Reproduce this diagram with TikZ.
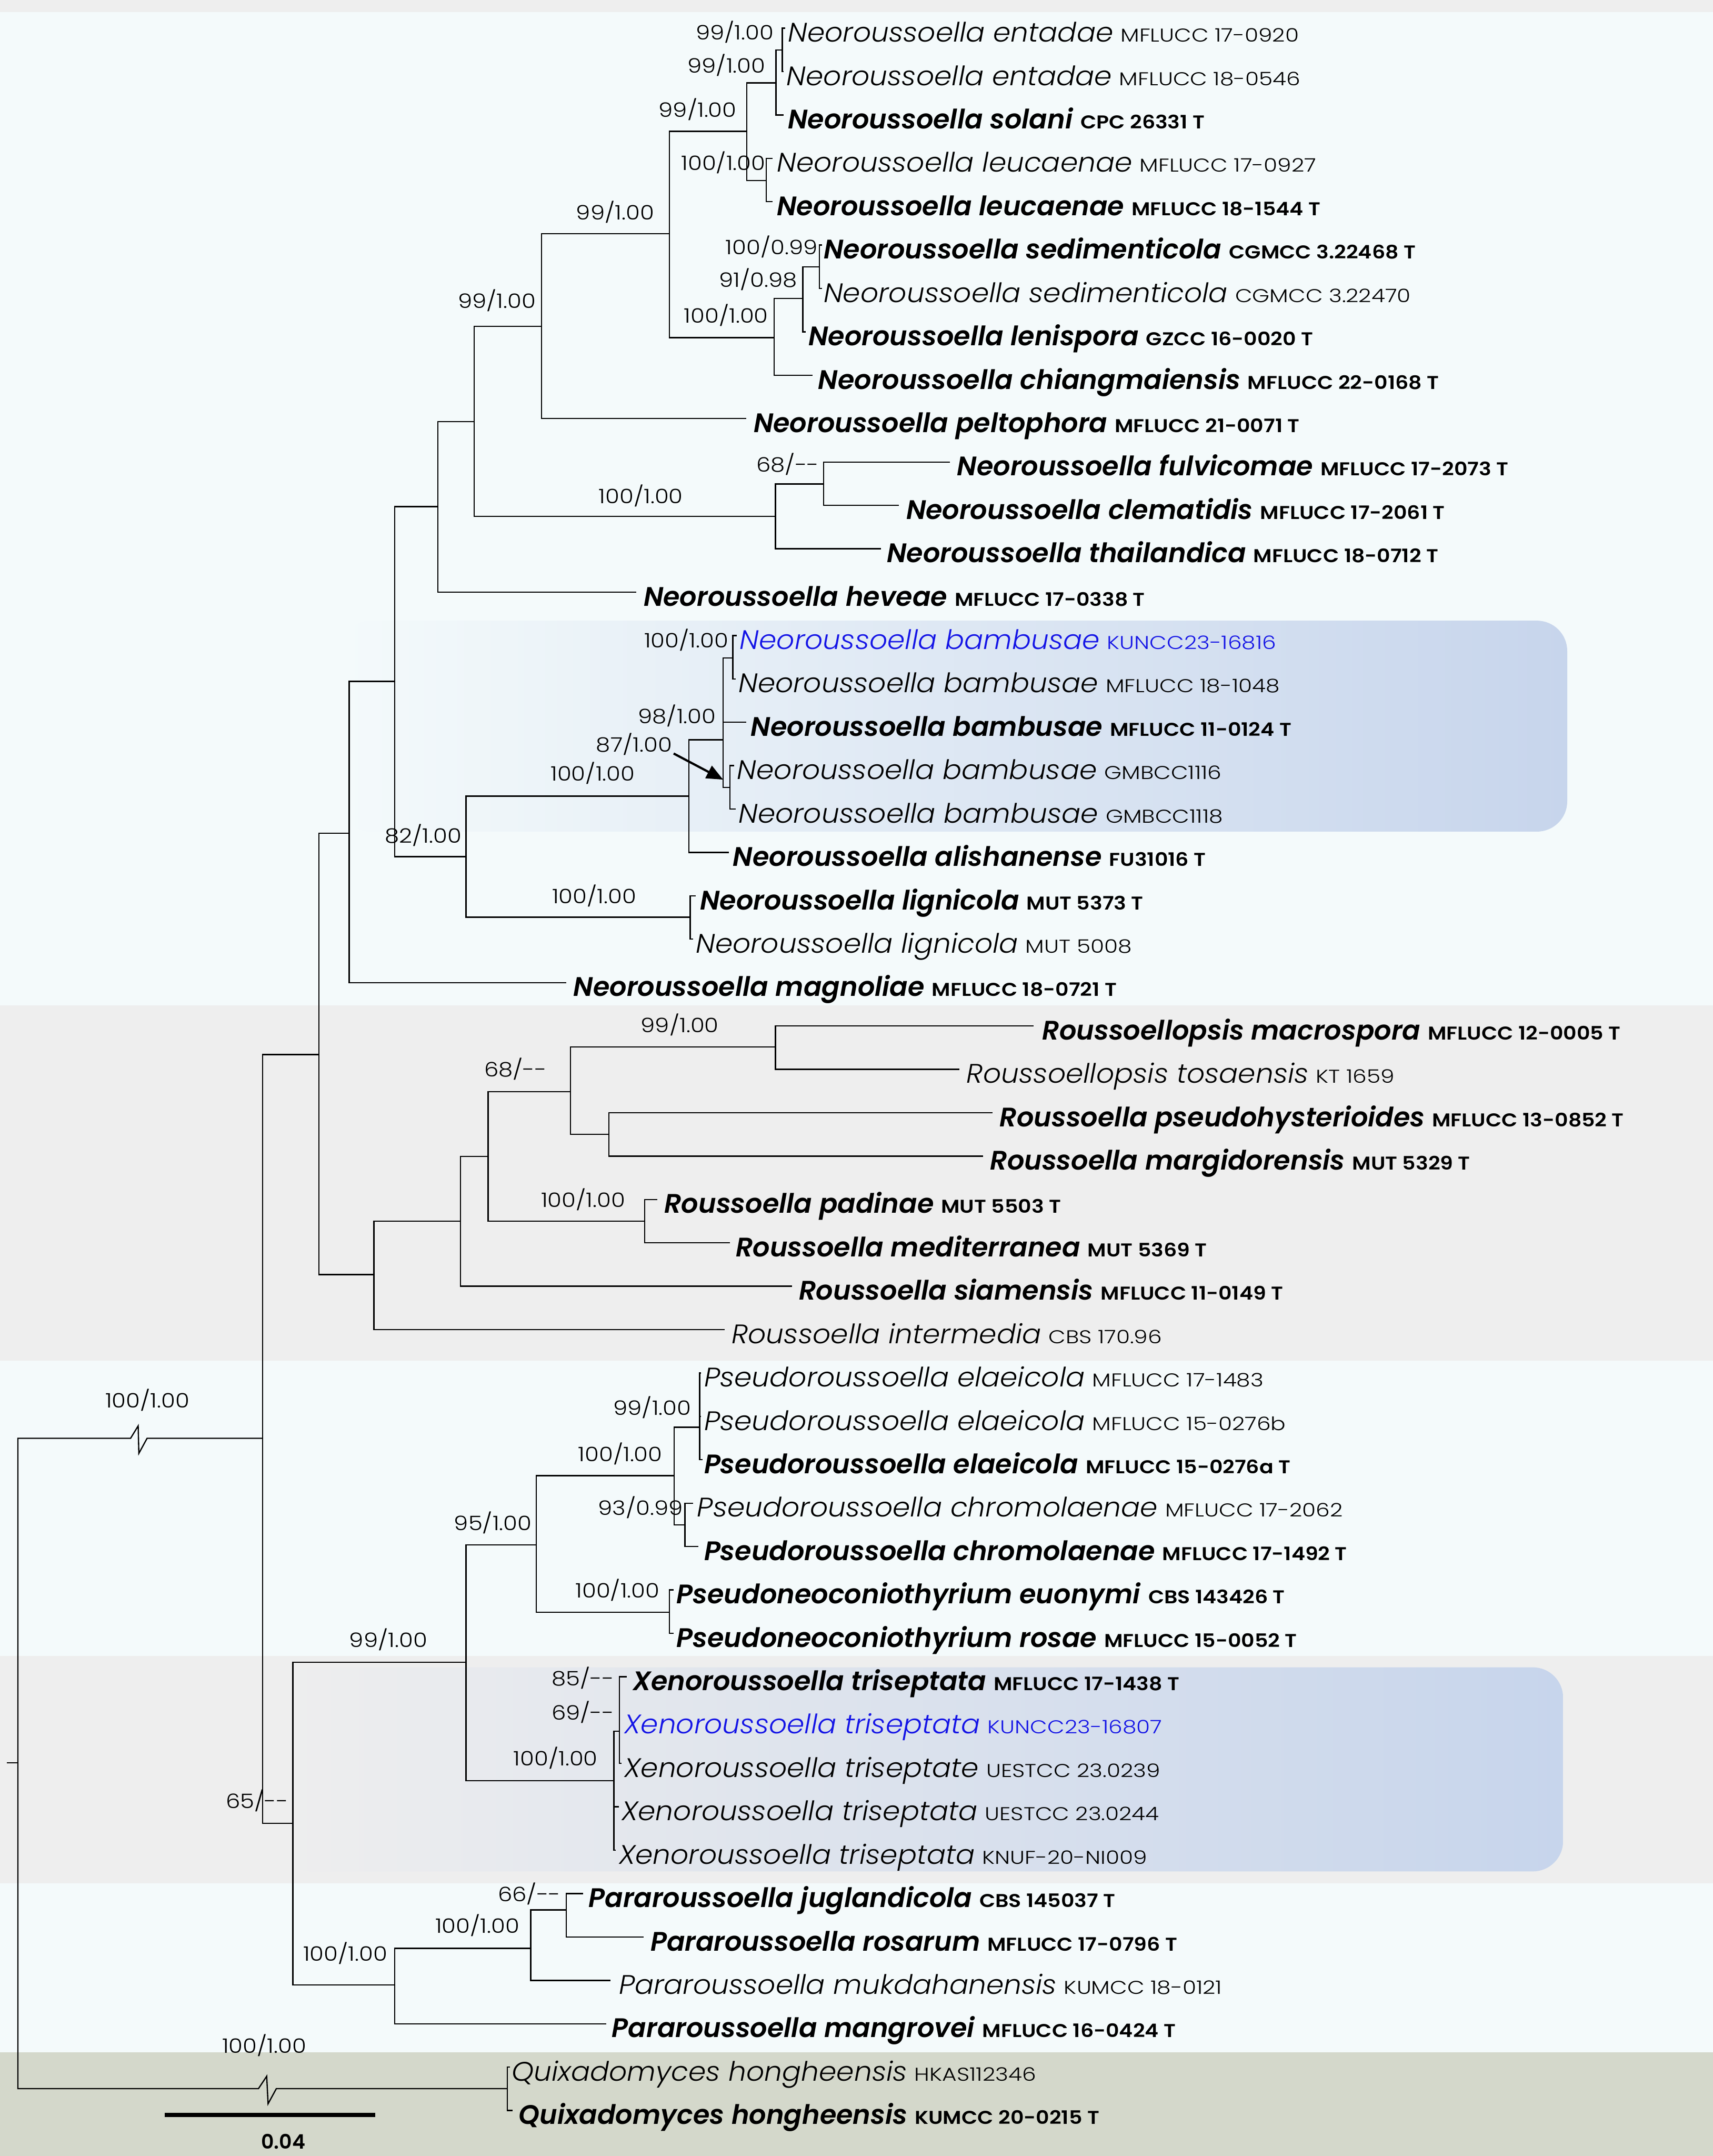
\documentclass[tikz,border=0pt]{standalone}
\usepackage{fontspec}
\setmainfont{Poppins Light}[ItalicFont={Poppins Light Italic},ItalicFeatures={FakeStretch=1.05},BoldFont={Poppins SemiBold},BoldItalicFont={Poppins SemiBold Italic}]
\newfontfamily\codef{Poppins Light}[FakeStretch=1.2]
\newfontfamily\codebf{Poppins SemiBold}[FakeStretch=1.12]
\newfontfamily\suppf{Poppins Light}[FakeStretch=1.15]
\usetikzlibrary{arrows.meta}
\definecolor{bgb}{HTML}{F4FAFB}
\definecolor{bgg}{HTML}{EEEEEE}
\definecolor{bgq}{HTML}{D4D8CB}
\definecolor{hl}{HTML}{C7D5EC}
\definecolor{nblue}{HTML}{1414E6}
\newcommand\cd{\codef\fontsize{13.5}{15}\selectfont}
\newcommand\cdb{\codebf\fontsize{13.5}{15}\selectfont}
\newcommand\nm[2]{\textit{#1} {\cd #2}}
\newcommand\nb[2]{\textbf{\textit{#1}} {\cdb #2}}
\newcommand\tip[5]{\coordinate (#1) at (#2,#4); \node[lab] (#1l) at (#3,#4+10) {#5};}
\newcommand\bs[4]{\node[supp] (#1) at (#2,#3) {#4};}
\begin{document}
\begin{tikzpicture}[x=1pt,y=-1pt,
  br/.style={line width=0.9pt,black},
  lab/.style={anchor=base west,inner sep=0pt,font=\fontsize{19.5}{22}\selectfont},
  supp/.style={anchor=base east,inner sep=0pt,font=\suppf\fontsize{14.5}{16}\selectfont},
  arr/.style={-{Triangle[length=12pt,width=10pt]},line width=1.6pt}]
\useasboundingbox (0,0) rectangle (1246,1568);
% background bands
\fill[bgg] (0,0) rectangle (1246,8.7);
\fill[bgb] (0,8.7) rectangle (1246,731);
\fill[bgg] (0,731) rectangle (1246,989.6);
\fill[bgb] (0,989.6) rectangle (1246,1204.5);
\fill[bgg] (0,1204.5) rectangle (1246,1369.5);
\fill[bgb] (0,1369.5) rectangle (1246,1492.4);
\fill[bgq] (0,1492.4) rectangle (1246,1568);
% highlight boxes
\shade[left color=bgb,right color=hl,rounded corners=22] (248,451.4) rectangle (1140,604.8);
\shade[left color=bgg,right color=hl,rounded corners=22] (205,1212.6) rectangle (1137,1361);

% tips
\tip{t1}{571}{573}{20.5}{\nm{Neoroussoella entadae}{MFLUCC 17-0920}}
\tip{t2}{570}{572}{52.05}{\nm{Neoroussoella entadae}{MFLUCC 18-0546}}
\tip{t3}{570}{573}{83.6}{\nb{Neoroussoella solani}{CPC 26331 T}}
\tip{t4}{562}{565}{115.15}{\nm{Neoroussoella leucaenae}{MFLUCC 17-0927}}
\tip{t5}{562}{565}{146.7}{\nb{Neoroussoella leucaenae}{MFLUCC 18-1544 T}}
\tip{t6}{598}{599}{178.25}{\nb{Neoroussoella sedimenticola}{CGMCC 3.22468 T}}
\tip{t7}{598}{599}{209.8}{\nm{Neoroussoella sedimenticola}{CGMCC 3.22470}}
\tip{t8}{586}{588}{241.35}{\nb{Neoroussoella lenispora}{GZCC 16-0020 T}}
\tip{t9}{591}{595}{272.9}{\nb{Neoroussoella chiangmaiensis}{MFLUCC 22-0168 T}}
\tip{t10}{543}{548}{304.45}{\nb{Neoroussoella peltophora}{MFLUCC 21-0071 T}}
\tip{t11}{691}{696}{336}{\nb{Neoroussoella fulvicomae}{MFLUCC 17-2073 T}}
\tip{t12}{654}{659}{367.55}{\nb{Neoroussoella clematidis}{MFLUCC 17-2061 T}}
\tip{t13}{641}{645}{399.1}{\nb{Neoroussoella thailandica}{MFLUCC 18-0712 T}}
\tip{t14}{463}{468}{430.65}{\nb{Neoroussoella heveae}{MFLUCC 17-0338 T}}
\tip{t15}{536}{538}{462.2}{\color{nblue}\nm{Neoroussoella bambusae}{KUNCC23-16816}}
\tip{t16}{535}{537}{493.75}{\nm{Neoroussoella bambusae}{MFLUCC 18-1048}}
\tip{t17}{543}{546}{525.3}{\nb{Neoroussoella bambusae}{MFLUCC 11-0124 T}}
\tip{t18}{534}{536}{556.85}{\nm{Neoroussoella bambusae}{GMBCC1116}}
\tip{t19}{535}{537}{588.4}{\nm{Neoroussoella bambusae}{GMBCC1118}}
\tip{t20}{530}{533}{619.95}{\nb{Neoroussoella alishanense}{FU31016 T}}
\tip{t21}{506}{509}{651.5}{\nb{Neoroussoella lignicola}{MUT 5373 T}}
\tip{t22}{504}{506}{683.05}{\nm{Neoroussoella lignicola}{MUT 5008}}
\tip{t23}{412}{417}{714.6}{\nb{Neoroussoella magnoliae}{MFLUCC 18-0721 T}}
\tip{t24}{752}{758}{746.15}{\nb{Roussoellopsis macrospora}{MFLUCC 12-0005 T}}
\tip{t25}{698}{703}{777.7}{\nm{Roussoellopsis tosaensis}{KT 1659}}
\tip{t26}{722}{727}{809.25}{\nb{Roussoella pseudohysterioides}{MFLUCC 13-0852 T}}
\tip{t27}{715}{720}{840.8}{\nb{Roussoella margidorensis}{MUT 5329 T}}
\tip{t28}{478}{483}{872.35}{\nb{Roussoella padinae}{MUT 5503 T}}
\tip{t29}{531}{535}{903.9}{\nb{Roussoella mediterranea}{MUT 5369 T}}
\tip{t30}{576}{581}{935.45}{\nb{Roussoella siamensis}{MFLUCC 11-0149 T}}
\tip{t31}{527}{532}{967}{\nm{Roussoella intermedia}{CBS 170.96}}
\tip{t32}{510}{512}{998.55}{\nm{Pseudoroussoella elaeicola}{MFLUCC 17-1483}}
\tip{t33}{510}{512}{1030.1}{\nm{Pseudoroussoella elaeicola}{MFLUCC 15-0276b}}
\tip{t34}{511}{512}{1061.65}{\nb{Pseudoroussoella elaeicola}{MFLUCC 15-0276a T}}
\tip{t35}{504}{507}{1093.2}{\nm{Pseudoroussoella chromolaenae}{MFLUCC 17-2062}}
\tip{t36}{508}{512}{1124.75}{\nb{Pseudoroussoella chromolaenae}{MFLUCC 17-1492 T}}
\tip{t37}{490}{492}{1156.3}{\nb{Pseudoneoconiothyrium euonymi}{CBS 143426 T}}
\tip{t38}{490}{492}{1187.85}{\nb{Pseudoneoconiothyrium rosae}{MFLUCC 15-0052 T}}
\tip{t39}{456}{460}{1219.4}{\nb{Xenoroussoella triseptata}{MFLUCC 17-1438 T}}
\tip{t40}{451}{454}{1250.95}{\color{nblue}\nm{Xenoroussoella triseptata}{KUNCC23-16807}}
\tip{t41}{452}{454}{1282.5}{\nm{Xenoroussoella triseptate}{UESTCC 23.0239}}
\tip{t42}{450}{452}{1314.05}{\nm{Xenoroussoella triseptata}{UESTCC 23.0244}}
\tip{t43}{448}{450}{1345.6}{\nm{Xenoroussoella triseptata}{KNUF-20-NI009}}
\tip{t44}{424}{428}{1377.15}{\nb{Pararoussoella juglandicola}{CBS 145037 T}}
\tip{t45}{468}{473}{1408.7}{\nb{Pararoussoella rosarum}{MFLUCC 17-0796 T}}
\tip{t46}{444}{450}{1440.25}{\nm{Pararoussoella mukdahanensis}{KUMCC 18-0121}}
\tip{t47}{441}{445}{1471.8}{\nb{Pararoussoella mangrovei}{MFLUCC 16-0424 T}}
\tip{t48}{371}{372}{1503.35}{\nm{Quixadomyces hongheensis}{HKAS112346}}
\tip{t49}{373}{377}{1534.9}{\nb{Quixadomyces hongheensis}{KUMCC 20-0215 T}}

% internal nodes
\coordinate (stub) at (5,1282);
\coordinate (R0) at (13,1282);
\coordinate (bk1) at (95,1046);
\coordinate (bk2) at (188,1519);
\coordinate (A) at (191,1046);
\coordinate (NR) at (232,767);
\coordinate (Neo) at (254,606);
\coordinate (I) at (287,495.5);
\coordinate (K) at (318.6,368.5);
\coordinate (L) at (345,306.6);
\coordinate (Mp) at (394,237.4);
\coordinate (M) at (487,170);
\coordinate (P) at (543.2,95.5);
\coordinate (R) at (564.5,60.3);
\coordinate (T) at (569,36.4);
\coordinate (S) at (557.3,131.2);
\coordinate (Q2) at (563,245.6);
\coordinate (U) at (584,217);
\coordinate (V) at (596,194);
\coordinate (N) at (564,375.6);
\coordinate (O) at (599,352);
\coordinate (J) at (339,623);
\coordinate (W) at (501,579);
\coordinate (X) at (526,538);
\coordinate (Y) at (533,478.5);
\coordinate (Z) at (531,572.7);
\coordinate (Lg) at (502,667);
\coordinate (Rou) at (272,927);
\coordinate (AA) at (335,888);
\coordinate (AB) at (355,841);
\coordinate (AC) at (415,794);
\coordinate (AE) at (564,761.5);
\coordinate (AF) at (443,825);
\coordinate (AD) at (469,888);
\coordinate (B) at (213,1326);
\coordinate (C) at (339,1209);
\coordinate (D) at (390,1123.5);
\coordinate (E) at (490.5,1073.2);
\coordinate (F) at (509,1038);
\coordinate (G2) at (498.2,1109);
\coordinate (PN) at (487,1172.6);
\coordinate (Xe) at (446.5,1295);
\coordinate (Xs) at (450.5,1259);
\coordinate (Pa) at (287,1443.5);
\coordinate (G) at (386,1417);
\coordinate (H) at (412,1389);
\coordinate (Q) at (369,1519);

% branches
\draw[br] (stub) -- (R0);
\draw[br] (R0) |- (bk1) -- ++(5.5,-9) -- ++(0.5,20) -- ++(6,-11) -- (A);
\draw[br] (R0) |- (bk2) -- ++(6,-9) -- ++(1,20) -- ++(6,-11) -- (Q);
\foreach \p/\c in {A/NR,A/B,NR/Neo,NR/Rou,Neo/I,Neo/t23,I/K,I/J,K/L,K/t14,L/Mp,L/N,
  Mp/M,Mp/t10,M/P,M/Q2,P/R,P/S,R/T,R/t3,T/t1,T/t2,S/t4,S/t5,Q2/U,Q2/t9,U/V,U/t8,V/t6,V/t7,
  N/O,N/t13,O/t11,O/t12,J/W,J/Lg,W/X,W/t20,X/Y,X/t17,X/Z,Y/t15,Y/t16,Z/t18,Z/t19,Lg/t21,Lg/t22,
  Rou/AA,Rou/t31,AA/AB,AA/t30,AB/AC,AB/AD,AC/AE,AC/AF,AE/t24,AE/t25,AF/t26,AF/t27,AD/t28,AD/t29,
  B/C,B/Pa,C/D,C/Xe,D/E,D/PN,E/F,E/G2,F/t32,F/t33,F/t34,G2/t35,G2/t36,PN/t37,PN/t38,
  Xe/Xs,Xe/t42,Xe/t43,Xs/t39,Xs/t40,Xs/t41,Pa/G,Pa/t47,G/H,G/t46,H/t44,H/t45,Q/t48,Q/t49}
  {\draw[br] (\p) |- (\c);}

% support values
\bs{sT}{563}{29}{99/1.00}
\bs{sR}{557}{53}{99/1.00}
\bs{sP}{536}{85}{99/1.00}
\bs{sS}{557}{124}{100/1.00}
\bs{sM}{476}{160}{99/1.00}
\bs{sV}{595}{185}{100/0.99}
\bs{sU}{580}{209}{91/0.98}
\bs{sMp}{390}{224}{99/1.00}
\bs{sQ2}{559}{235}{100/1.00}
\bs{sO}{596}{343}{68/-{}-}
\bs{sN}{497}{366}{100/1.00}
\bs{sY}{530}{471}{100/1.00}
\bs{sX}{521}{526}{98/1.00}
\bs{sZ}{489}{547}{87/1.00}
\bs{sW}{462}{568}{100/1.00}
\bs{sJ}{336}{613}{82/1.00}
\bs{sLg}{463}{657}{100/1.00}
\bs{sAE}{523}{751}{99/1.00}
\bs{sAC}{398}{783}{68/-{}-}
\bs{sAD}{455}{878}{100/1.00}
\bs{sA}{138}{1024}{100/1.00}
\bs{sF}{503}{1029}{99/1.00}
\bs{sE}{482}{1063}{100/1.00}
\bs{sG2}{497}{1102}{93/0.99}
\bs{sD}{387}{1113}{95/1.00}
\bs{sPN}{480}{1162}{100/1.00}
\bs{sC}{311}{1198}{99/1.00}
\bs{sX1}{447}{1226}{85/-{}-}
\bs{sX2}{447}{1251}{69/-{}-}
\bs{sXe}{435}{1284}{100/1.00}
\bs{sB}{210}{1315}{65/-{}-}
\bs{sH}{408}{1383}{66/-{}-}
\bs{sG}{378}{1406}{100/1.00}
\bs{sPa}{282}{1426}{100/1.00}
\bs{sQ}{223}{1493}{100/1.00}

% arrow to node Z
\draw[arr] ([shift={(1,1)}]sZ.base east) -- ([shift={(-5,-5.7)}]Z);

% scale bar
\coordinate (sb1) at (120,1538);
\coordinate (sb2) at (273,1538);
\draw[line width=3.2pt] (sb1) -- (sb2);
\node[anchor=base,inner sep=0pt,font=\fontsize{14.5}{16}\selectfont\bfseries] (sbl) at (206,1563) {0.04};
\end{tikzpicture}
\end{document}
